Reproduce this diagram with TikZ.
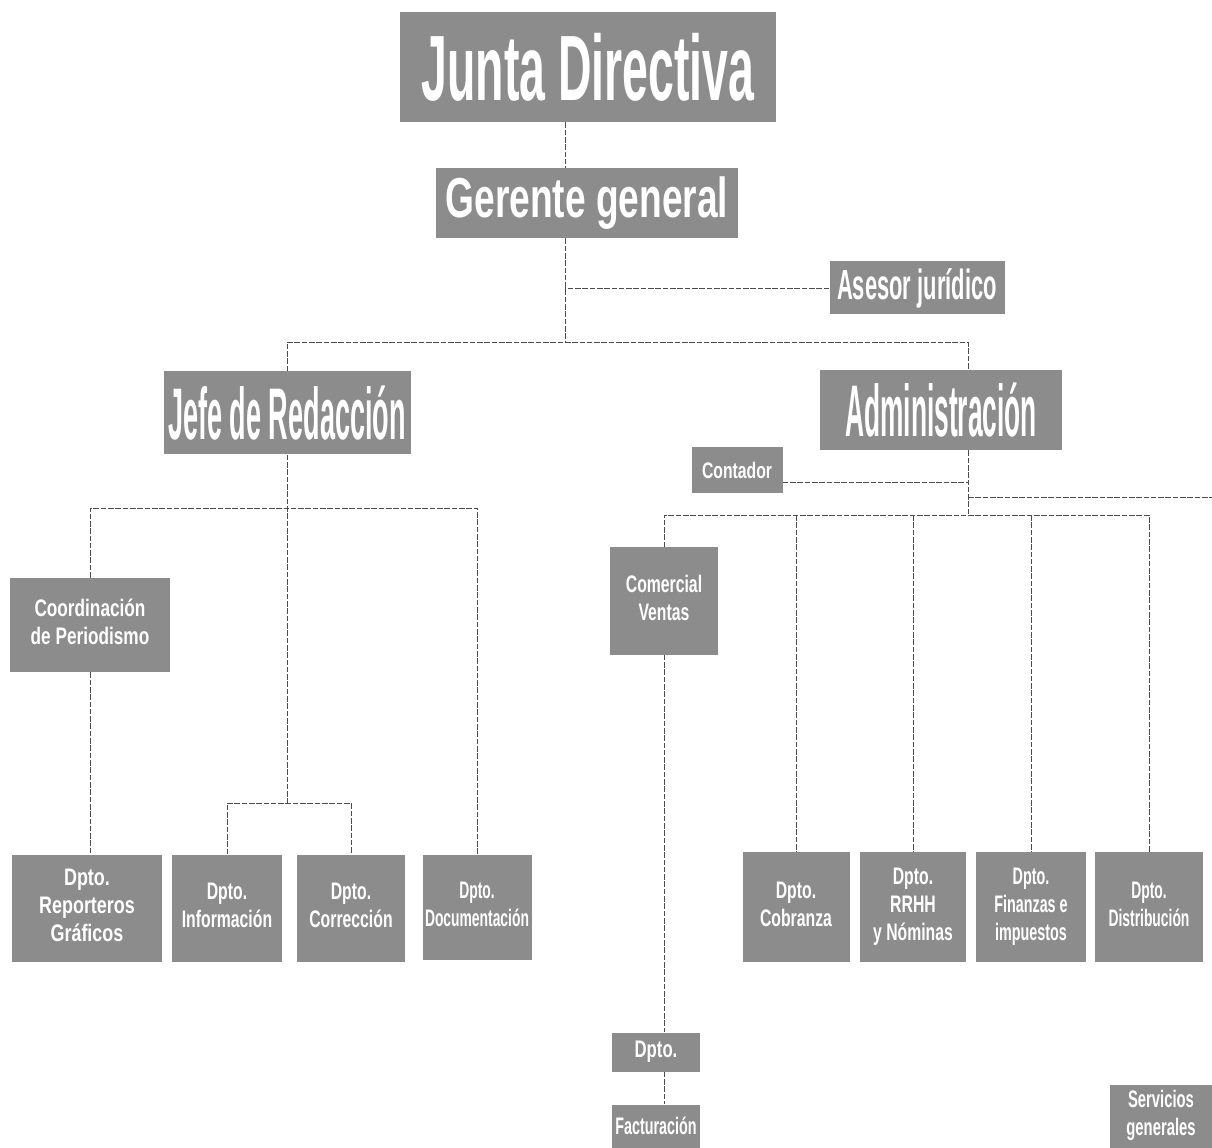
\documentclass[tikz,border=0pt]{standalone}
\usepackage{fontspec}
\setmainfont{Liberation Sans}
\usepackage{graphicx}
\newcommand\ct[4]{\fontsize{#1}{#2}\selectfont\bfseries\scalebox{#3}[1]{\begin{tabular}{@{}c@{}}#4\end{tabular}}}
\newcommand\co[3]{\fontsize{#1}{#1}\selectfont\bfseries\scalebox{#2}[1]{#3}}
\newcommand\ob[7]{\node[orgbox, minimum width=#4*0.025cm, minimum height=#5*0.025cm] (#1) at (#2,#3) {#7#6};}
\begin{document}
\begin{tikzpicture}[x=0.025cm,y=-0.025cm,
  orgbox/.style={draw=none, fill=black!45, text=white, inner sep=0pt, align=center},
  link/.style={draw=black!70, line width=0.6pt, dash pattern=on 4pt off 1.2pt}]
\useasboundingbox (0,0) rectangle (1212,1148);
% boxes
\ob{junta}{588}{67}{376}{110}{\co{66}{0.5}{Junta Directiva}}{}
\ob{gerente}{587}{203}{302}{70}{\co{40}{0.66}{Gerente general}}{}
\ob{asesor}{917}{288}{175}{53}{\co{30}{0.52}{Asesor jurídico}}{}
\ob{jefe}{287}{413}{247}{83}{\co{52}{0.37}{Jefe de Redacción}}{}
\ob{admin}{941}{410}{242}{80}{\co{52}{0.36}{Administración}}{}
\ob{contador}{737}{470}{91}{46}{\co{16}{0.7}{Contador}}{}
\ob{coord}{90}{625}{160}{94}{\ct{17}{20}{0.72}{Coordinación\\de Periodismo}}{}
\ob{comercial}{664}{601}{108}{107}{\ct{17}{20}{0.66}{Comercial\\Ventas}}{}
\ob{reporteros}{87}{908}{150}{107}{\ct{17}{20}{0.75}{Dpto.\\Reporteros\\Gráficos}}{}
\ob{informacion}{227}{908}{110}{107}{\ct{17}{20}{0.66}{Dpto.\\Información}}{}
\ob{correccion}{351}{908}{108}{107}{\ct{17}{20}{0.66}{Dpto.\\Corrección}}{}
\ob{documentacion}{477}{907}{109}{105}{\ct{17}{20}{0.58}{Dpto.\\Documentación}}{}
\ob{cobranza}{796}{907}{107}{110}{\ct{17}{20}{0.66}{Dpto.\\Cobranza}}{}
\ob{rrhh}{913}{907}{106}{110}{\ct{17}{20}{0.66}{Dpto.\\RRHH\\y Nóminas}}{}
\ob{finanzas}{1031}{907}{110}{110}{\ct{17}{20}{0.6}{Dpto.\\Finanzas e\\impuestos}}{}
\ob{distribucion}{1149}{907}{108}{110}{\ct{17}{20}{0.58}{Dpto.\\Distribución}}{}
\ob{dpto}{656}{1052}{88}{39}{\co{17}{0.7}{Dpto.}}{}
\ob{facturacion}{656}{1126}{88}{43}{\co{17}{0.6}{Facturación}}{}
\ob{servicios}{1161}{1116}{102}{63}{\ct{17}{20}{0.62}{Servicios\\generales}}{}
% helper coordinates
\coordinate (gx) at (565,0);
\coordinate (ax) at (968,0);
\coordinate (b1) at (0,342);
\coordinate (b2) at (0,508);
\coordinate (sb) at (0,803);
\coordinate (cl) at (0,482);
\coordinate (b3) at (0,515);
\coordinate (redge) at (1212,497);
% connectors
\draw[link] (junta.south -| gx) -- (gerente.north -| gx);
\draw[link] (gerente.south -| gx) -- (b1 -| gx);
\draw[link] (asesor.west) -- (asesor.west -| gx);
\draw[link] (jefe.north) |- (b1 -| ax) -- (admin.north -| ax);
\draw[link] (jefe.south) -- (jefe.south |- sb);
\draw[link] (coord.north) |- (documentacion.north |- b2) -- (documentacion.north);
\draw[link] (coord.south) -- (coord.south |- reporteros.north);
\draw[link] (informacion.north) |- (correccion.north |- sb) -- (correccion.north);
\draw[link] (admin.south -| ax) -- (b3 -| ax);
\draw[link] (contador.east |- cl) -- (cl -| ax);
\draw[link] (redge -| ax) -- (redge);
\draw[link] (comercial.north) |- (distribucion.north |- b3) -- (distribucion.north);
\draw[link] (cobranza.north |- b3) -- (cobranza.north);
\draw[link] (rrhh.north |- b3) -- (rrhh.north);
\draw[link] (finanzas.north |- b3) -- (finanzas.north);
\draw[link] (comercial.south) -- (comercial.south |- dpto.north);
\draw[link] (dpto.south -| comercial.south) -- (facturacion.north -| comercial.south);
\end{tikzpicture}
\end{document}
